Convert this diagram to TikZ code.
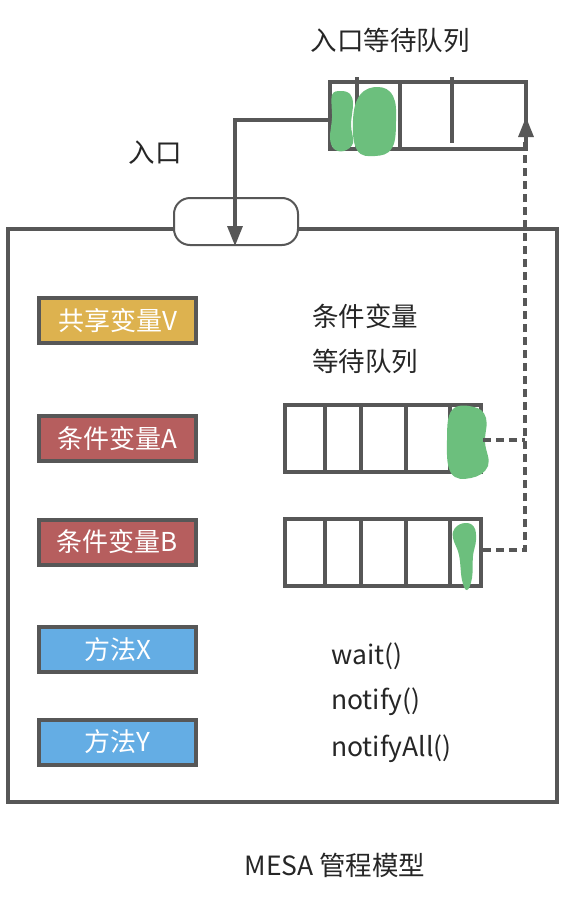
\documentclass[tikz,border=0pt]{standalone}
\usepackage{fontspec}
\setmainfont{Noto Sans CJK SC}
\usetikzlibrary{arrows.meta}
\definecolor{ln}{HTML}{575757}
\definecolor{gold}{HTML}{DDB24F}
\definecolor{redb}{HTML}{B65E5E}
\definecolor{blueb}{HTML}{64ADE4}
\definecolor{grn}{HTML}{6CBF7D}
\tikzset{
  lbox/.style={draw=ln,line width=4pt,minimum width=157pt,minimum height=45pt,inner sep=0pt,text=white,font=\fontsize{26}{30}\selectfont},
  queue/.style={draw=ln,line width=4pt,minimum width=196pt,minimum height=67pt,inner sep=0pt},
  divl/.style={ln,line width=4pt},
  txt/.style={font=\fontsize{26.5}{30}\selectfont,text=black!85,inner sep=0pt},
  blob/.style={fill=grn,draw=none},
  arr/.style={ln,line width=3.2pt,-{Triangle[length=20pt,width=15pt]}},
  dsh/.style={ln,line width=3.5pt,dash pattern=on 8pt off 5pt}
}
\begin{document}
\begin{tikzpicture}[x=1pt,y=-1pt]
\useasboundingbox[fill=white] (0,0) rectangle (568,905);
% main box
\node[draw=ln,line width=4pt,minimum width=549pt,minimum height=573pt,inner sep=0pt] (monitor) at (282,515) {};
% entrance pill
\node[draw=ln,line width=2pt,fill=white,rounded corners=16pt,minimum width=124pt,minimum height=47pt,inner sep=0pt] (pill) at (236,221.5) {};
% top queue
\node[queue] (topq) at (428,115) {};
\draw[divl] (357,77) -- (357,150);
\draw[divl] (400,80) -- (400,150);
\draw[divl] (452,77) -- (452,143);
\draw[blob] plot[smooth cycle,tension=0.6] coordinates {(332,95) (341,91) (350,94) (353,104) (351,125) (353,143) (344,151) (334,149) (330,138) (332,118)};
\draw[blob] plot[smooth cycle,tension=0.7] coordinates {(360,95) (378,87) (393,96) (396,121) (392,148) (375,156) (357,150) (353,120)};
% queue A
\node[queue] (qA) at (383,438.5) {};
\foreach \x in {325,361,406,450} \draw[divl] (\x,403) -- (\x,474);
\draw[blob] plot[smooth cycle,tension=0.7] coordinates {(452,410) (474,407) (486,418) (485,442) (488,466) (471,478) (451,473) (447,440)};
% queue B
\node[queue] (qB) at (383,552.5) {};
\foreach \x in {325,361,406,450} \draw[divl] (\x,517) -- (\x,588);
\draw[blob] plot[smooth cycle,tension=0.7] coordinates {(455,528) (465,523) (474,527) (476,540) (473,556) (472,578) (467,590) (462,580) (459,555) (453,538)};
% left boxes
\node[lbox,fill=gold] (v) at (117.5,320.5) {共享变量V};
\node[lbox,fill=redb] (ca) at (117.5,438.5) {条件变量A};
\node[lbox,fill=redb] (cb) at (117.5,542) {条件变量B};
\node[lbox,fill=blueb] (mx) at (117.5,649.5) {方法X};
\node[lbox,fill=blueb] (my) at (117.5,742) {方法Y};
% texts
\node[txt] (tq) at (390,40) {入口等待队列};
\node[txt] (entry) at (155,153) {入口};
\node[txt] (cv1) at (365,316) {条件变量};
\node[txt] (cv2) at (365,361) {等待队列};
\node[txt,anchor=west] (w1) at (331,656) {wait()};
\node[txt,anchor=west] (w2) at (331,702) {notify()};
\node[txt,anchor=west] (w3) at (331,749) {notifyAll()};
\node[txt] (title) at (335,865) {MESA 管程模型};
% entry arrow
\coordinate (bend) at (235,120);
\draw[arr] (topq.west |- bend) -- (bend) -- (pill.south -| bend);
% dashed signal arrows
\coordinate (jA) at (525,440);
\coordinate (jB) at (525,550);
\coordinate (tip) at (526,117);
\draw[dsh] (qA.east |- jA) -- (jA);
\draw[dsh] (qB.east |- jB) -- (jB) -- (jB |- 0,130);
\draw[ln,line width=3.2pt,-{Triangle[length=20pt,width=15pt]}] (tip |- 0,134) -- (tip);
\end{tikzpicture}
\end{document}
